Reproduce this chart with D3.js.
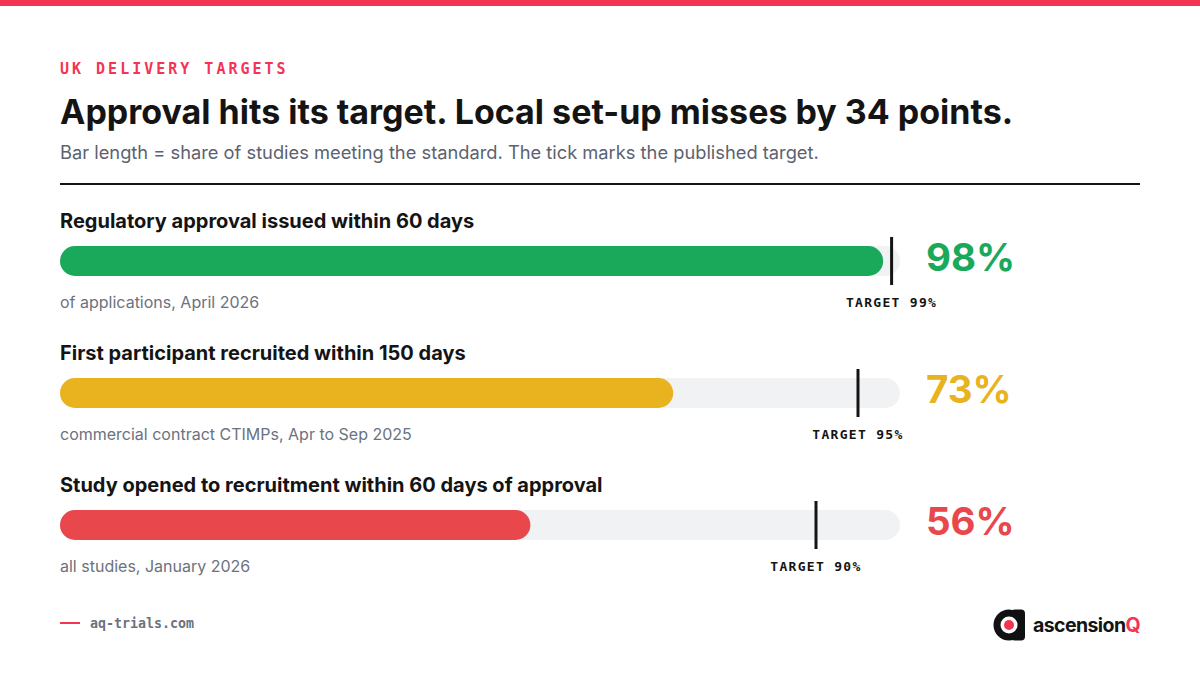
<!DOCTYPE html>
<html>
<head>
<meta charset="utf-8">
<script src="https://cdn.jsdelivr.net/npm/d3@7"></script>
<style>
  html, body { margin: 0; padding: 0; background: #fff; }
  svg { display: block; }
  .mono { font-family: "DejaVu Sans Mono", "Liberation Mono", monospace; }
  .sans { font-family: Inter, "Noto Sans", sans-serif; }
</style>
</head>
<body>
<div id="chart"></div>
<script>
// data
var categories = [
  "Regulatory approval issued within 60 days",
  "First participant recruited within 150 days",
  "Study opened to recruitment within 60 days of approval"
];
var notes = [
  "of applications, April 2026",
  "commercial contract CTIMPs, Apr to Sep 2025",
  "all studies, January 2026"
];
var shares = [98, 73, 56];
var targets = [99, 95, 90];

var svgWidth = 1200, svgHeight = 675;
var margin = { left: 60, right: 60 };

var svg = d3.select("#chart").append("svg")
  .attr("width", svgWidth)
  .attr("height", svgHeight);

// top accent strip
svg.append("rect")
  .attr("x", 0).attr("y", 0)
  .attr("width", svgWidth).attr("height", 6)
  .attr("fill", "#f43452");

// header
svg.append("text")
  .attr("class", "mono")
  .attr("x", margin.left).attr("y", 74)
  .attr("fill", "#f43452")
  .style("font-size", "15px")
  .style("font-weight", 700)
  .style("letter-spacing", "3px")
  .text("UK DELIVERY TARGETS");

svg.append("text")
  .attr("class", "sans")
  .attr("x", margin.left).attr("y", 124)
  .attr("fill", "#141414")
  .style("font-size", "34px")
  .style("font-weight", 700)
  .text("Approval hits its target. Local set-up misses by 34 points.");

svg.append("text")
  .attr("class", "sans")
  .attr("x", margin.left).attr("y", 159)
  .attr("fill", "#5b6270")
  .style("font-size", "18.3px")
  .text("Bar length = share of studies meeting the standard. The tick marks the published target.");

svg.append("line")
  .attr("x1", margin.left).attr("x2", svgWidth - margin.right)
  .attr("y1", 184).attr("y2", 184)
  .attr("stroke", "#141414")
  .attr("stroke-width", 2);

// scales
var x = d3.scaleLinear().domain([0, 100]).range([60, 900]);
var y = d3.scalePoint().domain(categories).range([220, 484]);
var colour = d3.scaleOrdinal().domain(categories).range(["#1aa95b", "#e8b31e", "#e8474c"]);

var barH = 30;

var rows = svg.selectAll("g.row")
  .data(categories)
  .enter()
  .append("g")
  .attr("class", "row")
  .attr("transform", d => `translate(0, ${y(d)})`);

rows.append("text")
  .attr("class", "sans")
  .attr("x", margin.left).attr("y", 8)
  .attr("fill", "#141414")
  .style("font-size", "20px")
  .style("font-weight", 700)
  .text(d => d);

// track
rows.append("rect")
  .attr("x", x(0)).attr("y", 26)
  .attr("width", x(100) - x(0)).attr("height", barH)
  .attr("rx", barH / 2)
  .attr("fill", "#f1f2f4");

// value bar
rows.append("rect")
  .attr("x", x(0)).attr("y", 26)
  .attr("width", (d, i) => x(shares[i]) - x(0)).attr("height", barH)
  .attr("rx", barH / 2)
  .attr("fill", d => colour(d));

// target tick
rows.append("line")
  .attr("x1", (d, i) => x(targets[i])).attr("x2", (d, i) => x(targets[i]))
  .attr("y1", 17).attr("y2", 65)
  .attr("stroke", "#141414")
  .attr("stroke-width", 3);

rows.append("text")
  .attr("class", "mono")
  .attr("x", (d, i) => x(targets[i])).attr("y", 87)
  .attr("text-anchor", "middle")
  .attr("fill", "#141414")
  .style("font-size", "13px")
  .style("font-weight", 700)
  .style("letter-spacing", "1.3px")
  .text((d, i) => "TARGET " + targets[i] + "%");

rows.append("text")
  .attr("class", "sans")
  .attr("x", margin.left).attr("y", 88)
  .attr("fill", "#6b7280")
  .style("font-size", "16px")
  .text((d, i) => notes[i]);

rows.append("text")
  .attr("class", "sans")
  .attr("x", 926).attr("y", 51)
  .attr("fill", d => colour(d))
  .style("font-size", "38.5px")
  .style("font-weight", 700)
  .text((d, i) => shares[i] + "%");

// footer
svg.append("line")
  .attr("x1", 60).attr("x2", 80)
  .attr("y1", 623).attr("y2", 623)
  .attr("stroke", "#f43452")
  .attr("stroke-width", 2);

svg.append("text")
  .attr("class", "mono")
  .attr("x", 90).attr("y", 628)
  .attr("fill", "#6b7280")
  .style("font-size", "13.3px")
  .style("font-weight", 700)
  .text("aq-trials.com");

// logo mark
var logo = svg.append("g").attr("transform", "translate(1009, 625)");
logo.append("circle").attr("r", 15.5).attr("fill", "#111");
logo.append("rect")
  .attr("x", 2).attr("y", -15.5)
  .attr("width", 14).attr("height", 31)
  .attr("rx", 4)
  .attr("fill", "#111");
logo.append("circle").attr("r", 8.5).attr("fill", "#fff");
logo.append("circle").attr("r", 5).attr("fill", "#f43452");

var brand = svg.append("text")
  .attr("class", "sans")
  .attr("x", 1140).attr("y", 632)
  .attr("text-anchor", "end")
  .attr("fill", "#141414")
  .style("font-size", "19.5px")
  .style("font-weight", 700)
  .style("letter-spacing", "-0.6px");
brand.append("tspan").text("ascension");
brand.append("tspan").attr("fill", "#f43452").text("Q");
</script>
</body>
</html>
